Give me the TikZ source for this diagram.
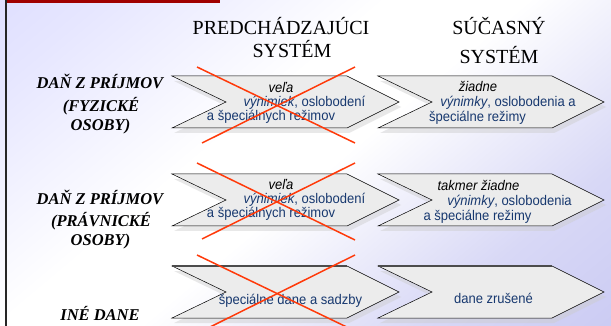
\documentclass[tikz,border=0pt]{standalone}
\usepackage{fontspec}
\setmainfont{Liberation Serif}
\newfontfamily\arialf[FakeStretch=0.93]{Liberation Sans}
\newfontfamily\labfont[BoldItalicFont={Liberation Serif Bold Italic}]{Liberation Serif}
\definecolor{txtblue}{HTML}{17386F}
\definecolor{lavA}{HTML}{D2D2FF}
\definecolor{lavB}{HTML}{BEBEF0}
\definecolor{chevgray}{HTML}{ECECEC}
\definecolor{crossred}{HTML}{FF3A0A}
\definecolor{barred}{HTML}{A00000}
\pgfdeclareverticalshading{bgshade}{100bp}{color(0bp)=(lavB); color(28bp)=(lavB!60!white); color(48bp)=(white); color(58bp)=(white); color(78bp)=(lavA!55!white); color(100bp)=(lavA)}
\newcommand\drawchev[3]{%
  \fill[gray!40,opacity=.45] (#1+2,#3-21) -- (#2-50,#3-21) -- (#2+2,#3+5) -- (#2-50,#3+31) -- (#1+2,#3+31) -- (#1+56,#3+5) -- cycle;
  \path[fill=chevgray,draw=black,line width=.5pt,line join=miter] (#1,#3-26) -- (#2-52,#3-26) -- (#2,#3) -- (#2-52,#3+26) -- (#1,#3+26) -- (#1+54,#3) -- cycle;
}
\begin{document}
\begin{tikzpicture}[x=1pt,y=-1pt,
  ctext/.style={font=\arialf\fontsize{14}{15}\selectfont,text=txtblue,inner sep=0pt,anchor=base},
  lab/.style={font=\labfont\fontsize{16.5}{20}\selectfont\bfseries\itshape,inner sep=0pt,anchor=base},
  head/.style={font=\fontsize{20}{24}\selectfont,inner sep=0pt,anchor=base},
  xline/.style={draw=crossred,line width=1.5pt}]
\useasboundingbox (0,0) rectangle (611,326);
\begin{scope}
\clip (0,0) rectangle (611,326);
\begin{scope}[y=1pt]
\shade[shading=bgshade,shading angle=40] (0,0) rectangle (611,-326);
\end{scope}
\fill[black!85] (5,0) rectangle (7,326);
\fill[barred] (7,0) rectangle (220,3.3);

% headings
\node[head] (h1) at (281,34.3) {PREDCHÁDZAJÚCI};
\node[head] (h2) at (292,57.3) {SYSTÉM};
\node[head] (h3) at (499,34.3) {SÚČASNÝ};
\node[head] (h4) at (499,63.3) {SYSTÉM};

% left labels
\node[lab] (l1a) at (100,88.3) {DAŇ Z PRÍJMOV};
\node[lab] (l1b) at (101,111.7) {(FYZICKÉ};
\node[lab] (l1c) at (100.5,131) {OSOBY)};
\node[lab] (l2a) at (100,205) {DAŇ Z PRÍJMOV};
\node[lab] (l2b) at (101,226.7) {(PRÁVNICKÉ};
\node[lab] (l2c) at (100.5,246) {OSOBY)};
\node[lab] (l3a) at (100,320) {INÉ DANE};

% chevrons
\drawchev{172}{399}{102}
\drawchev{378}{604}{102}
\drawchev{172}{399}{200}
\drawchev{378}{604}{200}
\drawchev{172}{399}{292}
\drawchev{378}{604}{292}
\draw[gray!60!black,line width=1.2pt] (172,266) -- (347,266);
\draw[gray!60!black,line width=1.2pt] (378,266) -- (552,266);

% row 1 texts
\node[ctext] (a1) at (281,92.5) {\color{black}\itshape veľa};
\node[ctext] (a2) at (304.5,106.5) {\itshape výnimiek\upshape, oslobodení};
\node[ctext] (a3) at (271,121) {a špeciálnych režimov};
\node[ctext] (b1) at (478,91.7) {\color{black}\itshape žiadne};
\node[ctext] (b2) at (508,106.7) {\itshape výnimky\upshape, oslobodenia a};
\node[ctext] (b3) at (477.5,121.7) {špeciálne režimy};

% row 2 texts
\node[ctext] (c1) at (281,189.5) {\color{black}\itshape veľa};
\node[ctext] (c2) at (304.5,203.5) {\itshape výnimiek\upshape, oslobodení};
\node[ctext] (c3) at (271,217.5) {a špeciálnych režimov};
\node[ctext] (d1) at (478.5,190) {\color{black}\itshape takmer žiadne};
\node[ctext] (d2) at (509.5,206) {\itshape výnimky\upshape, oslobodenia};
\node[ctext] (d3) at (477.5,220.5) {a špeciálne režimy};

% row 3 texts
\node[ctext] (e1) at (290.5,304) {špeciálne dane a sadzby};
\node[ctext] (f1) at (493.5,303) {dane zrušené};

% red crosses
\draw[xline] (197,67) -- (355,143);
\draw[xline] (202,143) -- (355,67);
\draw[xline] (197,163) -- (355,240);
\draw[xline] (202,239) -- (355,163);
\draw[xline] (197,255) -- (355,331);
\draw[xline] (202,331) -- (355,255);
\end{scope}
\end{tikzpicture}
\end{document}
